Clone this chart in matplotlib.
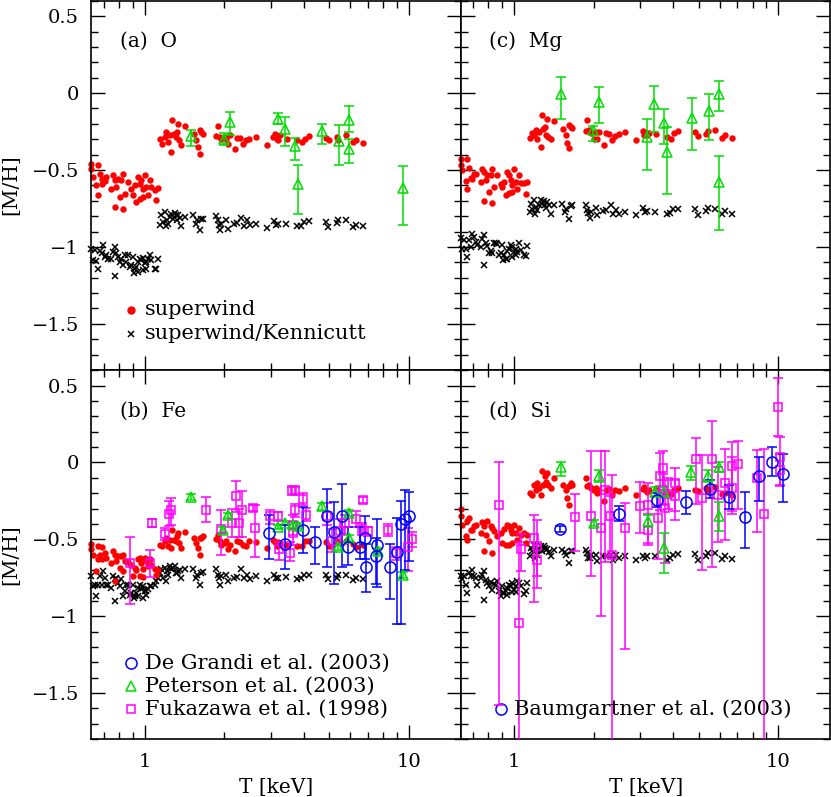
import matplotlib
matplotlib.use("Agg")
import matplotlib.pyplot as plt
from matplotlib.ticker import MultipleLocator, LogLocator, NullFormatter, FuncFormatter

plt.rcParams["font.family"] = ["DejaVu Serif"]

# ---- model galaxies (superwind) : temperatures shared by all elements ----
T_SW_LOW = [0.628, 0.666, 0.628, 0.637, 0.676, 0.656, 0.686, 0.705, 0.716, 0.691,
            0.666, 0.759, 0.770, 0.793, 0.828, 0.816, 0.781, 0.748, 0.804, 0.770,
            0.828, 0.865, 0.840, 0.890, 0.916, 0.903, 0.930, 0.943, 0.957, 0.971,
            1.000, 0.986, 1.015, 1.045, 1.060, 1.030, 0.986, 1.090, 1.123, 1.107, 0.957]
T_SW_HIGH = [1.146, 1.166, 1.191, 1.208, 1.226, 1.244, 1.262, 1.273, 1.288, 1.310,
             1.326, 1.338, 1.349, 1.377, 1.418, 1.533, 1.569, 1.592, 1.616, 1.639,
             1.663, 1.616, 1.868, 1.896, 1.923, 1.951, 2.009, 2.038, 2.069, 2.099,
             2.193, 2.225, 2.290, 2.358, 2.413, 2.485, 2.627, 2.906, 3.064, 3.107,
             3.153, 3.199, 3.246, 3.440, 3.776, 3.920, 4.040, 4.190, 4.850, 4.990,
             5.320, 5.400, 5.770, 6.150, 6.280, 6.710]
T_KN_LOW = [0.628, 0.637, 0.647, 0.656, 0.666, 0.676, 0.686, 0.695, 0.705, 0.716,
            0.726, 0.748, 0.759, 0.770, 0.770, 0.781, 0.793, 0.804, 0.816, 0.828,
            0.840, 0.852, 0.865, 0.877, 0.890, 0.903, 0.908, 0.916, 0.930, 0.943,
            0.957, 0.971, 0.986, 0.986, 1.000, 1.015, 1.030, 1.045, 1.060, 1.090,
            1.107, 1.123, 0.943, 1.015]
T_KN_HIGH = [1.146, 1.156, 1.173, 1.191, 1.201, 1.215, 1.226, 1.244, 1.262, 1.280,
             1.299, 1.310, 1.326, 1.338, 1.357, 1.377, 1.418, 1.525, 1.561, 1.579,
             1.616, 1.639, 1.663, 1.868, 1.896, 1.912, 1.934, 1.951, 2.038, 2.069,
             2.174, 2.225, 2.323, 2.371, 2.428, 2.500, 2.627, 2.906, 3.080, 3.135,
             3.199, 3.420, 3.776, 3.890, 4.000, 4.190, 4.850, 4.950, 5.320, 5.400,
             5.770, 6.150, 6.280, 6.710]

# superwind [M/H]
O_SW_LOW = [-0.459, -0.465, -0.496, -0.545, -0.524, -0.599, -0.556, -0.574, -0.545, -0.589,
            -0.664, -0.535, -0.567, -0.556, -0.524, -0.567, -0.610, -0.621, -0.675, -0.740,
            -0.751, -0.578, -0.654, -0.621, -0.599, -0.664, -0.708, -0.545, -0.589, -0.567,
            -0.535, -0.621, -0.610, -0.567, -0.610, -0.664, -0.675, -0.632, -0.617, -0.693, -0.686]
MG_SW_LOW = [-0.426, -0.431, -0.465, -0.502, -0.487, -0.574, -0.552, -0.524, -0.524, -0.560,
             -0.625, -0.496, -0.513, -0.530, -0.496, -0.535, -0.567, -0.578, -0.643, -0.703,
             -0.712, -0.535, -0.610, -0.589, -0.578, -0.610, -0.664, -0.513, -0.535, -0.567,
             -0.496, -0.599, -0.578, -0.535, -0.582, -0.621, -0.643, -0.582, -0.578, -0.654, -0.647]
FE_SW_LOW = [-0.528, -0.545, -0.566, -0.600, -0.599, -0.707, -0.549, -0.588, -0.620, -0.631,
             -0.627, -0.577, -0.599, -0.610, -0.600, -0.610, -0.642, -0.653, -0.686, -0.772,
             -0.707, -0.650, -0.642, -0.664, -0.686, -0.740, -0.700, -0.631, -0.621, -0.653,
             -0.620, -0.696, -0.642, -0.631, -0.665, -0.675, -0.744, -0.690, -0.700, -0.729, -0.740]
SI_SW_LOW = [-0.303, -0.383, -0.351, -0.405, -0.361, -0.480, -0.437, -0.416, -0.405, -0.437,
             -0.502, -0.390, -0.416, -0.383, -0.426, -0.416, -0.470, -0.460, -0.513, -0.578,
             -0.589, -0.481, -0.448, -0.459, -0.433, -0.524, -0.535, -0.405, -0.416, -0.437,
             -0.405, -0.459, -0.459, -0.426, -0.470, -0.502, -0.524, -0.459, -0.470, -0.524, -0.535]

O_SW_HIGH = [-0.296, -0.329, -0.286, -0.253, -0.318, -0.275, -0.383, -0.177, -0.264, -0.286,
             -0.253, -0.199, -0.307, -0.335, -0.214, -0.264, -0.307, -0.351, -0.394, -0.253,
             -0.264, -0.242, -0.279, -0.214, -0.286, -0.296, -0.286, -0.296, -0.329, -0.275,
             -0.366, -0.292, -0.290, -0.333, -0.307, -0.296, -0.286, -0.335, -0.286, -0.264,
             -0.296, -0.307, -0.275, -0.296, -0.307, -0.318, -0.296, -0.279, -0.292, -0.307,
             -0.286, -0.307, -0.275, -0.318, -0.303, -0.325]
MG_SW_HIGH = [-0.292, -0.257, -0.270, -0.242, -0.296, -0.253, -0.351, -0.145, -0.232, -0.221,
              -0.275, -0.167, -0.286, -0.301, -0.184, -0.232, -0.275, -0.322, -0.357, -0.221,
              -0.227, -0.210, -0.249, -0.177, -0.242, -0.257, -0.296, -0.253, -0.300, -0.253,
              -0.335, -0.257, -0.264, -0.303, -0.279, -0.266, -0.253, -0.303, -0.247, -0.275,
              -0.257, -0.270, -0.260, -0.264, -0.286, -0.296, -0.257, -0.247, -0.253, -0.279,
              -0.264, -0.249, -0.242, -0.290, -0.275, -0.292]
FE_SW_HIGH = [-0.534, -0.541, -0.512, -0.491, -0.541, -0.502, -0.556, -0.437, -0.502, -0.512,
              -0.480, -0.458, -0.523, -0.556, -0.454, -0.491, -0.527, -0.556, -0.599, -0.491,
              -0.480, -0.490, -0.497, -0.470, -0.512, -0.534, -0.523, -0.512, -0.566, -0.534,
              -0.577, -0.512, -0.519, -0.534, -0.545, -0.512, -0.519, -0.556, -0.506, -0.515,
              -0.541, -0.520, -0.530, -0.534, -0.541, -0.541, -0.512, -0.512, -0.519, -0.541,
              -0.512, -0.519, -0.508, -0.528, -0.549, -0.534]
SI_SW_HIGH = [-0.199, -0.210, -0.145, -0.177, -0.134, -0.167, -0.210, -0.058, -0.145, -0.091,
              -0.130, -0.069, -0.145, -0.167, -0.102, -0.145, -0.177, -0.232, -0.275, -0.134,
              -0.145, -0.156, -0.102, -0.156, -0.145, -0.167, -0.177, -0.167, -0.199, -0.177,
              -0.253, -0.177, -0.173, -0.210, -0.182, -0.188, -0.167, -0.210, -0.173, -0.160,
              -0.177, -0.195, -0.182, -0.167, -0.199, -0.203, -0.177, -0.167, -0.177, -0.188,
              -0.167, -0.177, -0.160, -0.203, -0.199, -0.210]

# superwind/Kennicutt [M/H]
O_KN_LOW = [-1.011, -1.087, -1.022, -1.093, -1.141, -1.028, -1.043, -0.989, -1.065, -1.054,
            -1.076, -1.080, -1.032, -1.000, -1.188, -1.043, -1.065, -1.097, -1.076, -1.119,
            -1.054, -1.097, -1.054, -1.130, -1.119, -1.065, -1.173, -1.141, -1.130, -1.097,
            -1.076, -1.087, -1.071, -1.151, -1.108, -1.097, -1.076, -1.054, -1.087, -1.141,
            -1.141, -1.076, -1.162, -1.141]
MG_KN_LOW = [-0.941, -1.011, -0.957, -1.017, -1.065, -0.957, -1.000, -0.913, -0.935, -0.967,
             -0.989, -1.000, -0.950, -0.920, -1.115, -0.972, -0.993, -1.043, -1.028, -1.040,
             -0.978, -0.972, -0.980, -1.050, -1.043, -0.989, -1.087, -1.054, -1.076, -1.028,
             -1.011, -0.989, -1.000, -1.065, -1.032, -1.011, -1.032, -0.978, -1.022, -1.054,
             -1.060, -0.993, -1.076, -1.050]
FE_KN_LOW = [-0.740, -0.805, -0.794, -0.870, -0.800, -0.740, -0.794, -0.707, -0.750, -0.794,
             -0.794, -0.815, -0.740, -0.760, -0.902, -0.750, -0.783, -0.805, -0.761, -0.870,
             -0.837, -0.794, -0.794, -0.859, -0.848, -0.794, -0.880, -0.870, -0.848, -0.815,
             -0.794, -0.826, -0.805, -0.880, -0.837, -0.837, -0.826, -0.805, -0.805, -0.794,
             -0.772, -0.750, -0.870, -0.859]
SI_KN_LOW = [-0.736, -0.760, -0.740, -0.794, -0.848, -0.720, -0.740, -0.697, -0.740, -0.750,
             -0.794, -0.751, -0.730, -0.708, -0.892, -0.762, -0.784, -0.805, -0.780, -0.827,
             -0.790, -0.800, -0.773, -0.838, -0.870, -0.805, -0.850, -0.848, -0.838, -0.816,
             -0.794, -0.805, -0.784, -0.845, -0.827, -0.805, -0.773, -0.784, -0.805, -0.853,
             -0.838, -0.784, -0.860, -0.840]

O_KN_HIGH = [-0.855, -0.794, -0.838, -0.773, -0.864, -0.827, -0.848, -0.805, -0.783, -0.816,
             -0.777, -0.794, -0.827, -0.794, -0.812, -0.864, -0.805, -0.794, -0.848, -0.827,
             -0.892, -0.816, -0.820, -0.799, -0.827, -0.859, -0.892, -0.848, -0.827, -0.881,
             -0.848, -0.842, -0.812, -0.864, -0.827, -0.859, -0.848, -0.877, -0.833, -0.855,
             -0.848, -0.848, -0.864, -0.864, -0.838, -0.833, -0.838, -0.870, -0.842, -0.827,
             -0.827, -0.870, -0.855, -0.864]
MG_KN_HIGH = [-0.773, -0.719, -0.751, -0.697, -0.783, -0.740, -0.760, -0.729, -0.697, -0.719,
              -0.703, -0.729, -0.747, -0.708, -0.730, -0.783, -0.725, -0.719, -0.773, -0.751,
              -0.816, -0.736, -0.729, -0.725, -0.762, -0.780, -0.812, -0.773, -0.747, -0.794,
              -0.768, -0.762, -0.729, -0.783, -0.762, -0.783, -0.770, -0.794, -0.747, -0.773,
              -0.768, -0.773, -0.783, -0.777, -0.755, -0.751, -0.755, -0.790, -0.768, -0.747,
              -0.751, -0.783, -0.768, -0.783]
FE_KN_HIGH = [-0.718, -0.696, -0.750, -0.686, -0.772, -0.707, -0.730, -0.675, -0.696, -0.686,
              -0.675, -0.718, -0.720, -0.707, -0.700, -0.750, -0.696, -0.696, -0.750, -0.729,
              -0.794, -0.718, -0.714, -0.696, -0.735, -0.750, -0.794, -0.740, -0.729, -0.772,
              -0.750, -0.744, -0.696, -0.750, -0.729, -0.761, -0.740, -0.772, -0.729, -0.750,
              -0.750, -0.744, -0.761, -0.750, -0.735, -0.735, -0.735, -0.761, -0.750, -0.729,
              -0.729, -0.766, -0.750, -0.761]
SI_KN_HIGH = [-0.610, -0.556, -0.578, -0.535, -0.621, -0.567, -0.600, -0.567, -0.545, -0.578,
              -0.545, -0.556, -0.567, -0.560, -0.580, -0.610, -0.567, -0.567, -0.584, -0.600,
              -0.654, -0.578, -0.578, -0.567, -0.590, -0.621, -0.620, -0.600, -0.600, -0.643,
              -0.610, -0.610, -0.600, -0.632, -0.600, -0.621, -0.610, -0.636, -0.610, -0.620,
              -0.610, -0.610, -0.632, -0.621, -0.600, -0.593, -0.593, -0.632, -0.610, -0.589,
              -0.589, -0.628, -0.610, -0.628]

# ---- observations ----
PET_O_T = [1.50, 1.99, 2.10, 3.20, 3.39, 3.69, 3.79, 4.67, 5.44, 5.94, 5.94, 9.46]
PET_O = [-0.281, -0.297, -0.188, -0.167, -0.232, -0.346, -0.593, -0.247, -0.312, -0.177, -0.361, -0.617]
PET_O_LO = [0.065, 0.043, 0.087, 0.037, 0.110, 0.091, 0.191, 0.082, 0.157, 0.076, 0.093, 0.242]
PET_O_HI = [0.043, 0.037, 0.065, 0.037, 0.076, 0.056, 0.123, 0.048, 0.102, 0.095, 0.065, 0.145]

PET_MG_T = [1.50, 1.99, 2.09, 3.19, 3.39, 3.69, 3.78, 4.70, 5.48, 5.98, 5.98]
PET_MG = [-0.004, -0.242, -0.058, -0.286, -0.069, -0.195, -0.383, -0.162, -0.119, -0.004, -0.578]
PET_MG_LO = [0.162, 0.069, 0.137, 0.212, 0.184, 0.134, 0.275, 0.205, 0.184, 0.115, 0.310]
PET_MG_HI = [0.108, 0.026, 0.097, 0.119, 0.115, 0.089, 0.162, 0.130, 0.115, 0.082, 0.167]

PET_FE_T = [1.49, 1.98, 2.07, 3.18, 3.39, 3.65, 3.81, 4.67, 5.40, 5.94, 5.94, 7.65, 9.46]
PET_FE = [-0.225, -0.44, -0.344, -0.42, -0.394, -0.405, -0.416, -0.286, -0.55, -0.329, -0.491, -0.578, -0.734]
PET_FE_ERR = [0.02, 0.02, 0.015, 0.015, 0.015, 0.02, 0.02, 0.02, 0.02, 0.02, 0.02, 0.02, 0.02]

PET_SI_T = [1.50, 2.00, 2.09, 3.20, 3.41, 3.68, 3.70, 4.66, 5.43, 5.98, 5.98]
PET_SI = [-0.03, -0.394, -0.09, -0.383, -0.19, -0.19, -0.556, -0.065, -0.087, -0.03, -0.346]
PET_SI_LO = [0.06, 0.02, 0.04, 0.04, 0.03, 0.03, 0.16, 0.05, 0.04, 0.035, 0.10]
PET_SI_HI = [0.035, 0.02, 0.04, 0.04, 0.03, 0.03, 0.10, 0.045, 0.04, 0.035, 0.09]

DG_FE_T = [2.95, 3.39, 3.98, 4.41, 4.90, 5.20, 5.58, 5.90, 6.52, 6.87, 6.81, 7.54, 7.50, 8.47,
           8.98, 9.30, 9.66, 10.0]
DG_FE = [-0.46, -0.53, -0.44, -0.52, -0.35, -0.45, -0.35, -0.55, -0.55, -0.68, -0.49, -0.54,
         -0.61, -0.68, -0.58, -0.40, -0.37, -0.35]
DG_FE_LO = [0.17, 0.16, 0.15, 0.14, 0.33, 0.34, 0.33, 0.12, 0.08, 0.16, 0.14, 0.27, 0.18, 0.21,
            0.47, 0.65, 0.33, 0.29]
DG_FE_HI = [0.12, 0.12, 0.15, 0.10, 0.18, 0.19, 0.21, 0.13, 0.13, 0.15, 0.14, 0.17, 0.12, 0.15,
            0.22, 0.15, 0.19, 0.16]

FK_FE_T = [0.877, 1.045, 1.066, 1.19, 1.233, 1.26, 1.70, 1.94, 2.14, 2.21, 2.28, 2.34, 2.57,
           2.61, 2.98, 3.20, 3.23, 3.56, 3.60, 3.70, 3.96, 3.70, 4.09, 3.65, 3.65, 4.88, 5.10,
           5.48, 5.72, 6.30, 6.71, 6.62, 7.01, 8.35, 8.93, 9.94, 10.24]
FK_FE = [-0.653, -0.657, -0.393, -0.465, -0.333, -0.31, -0.307, -0.43, -0.393, -0.221, -0.394,
         -0.307, -0.297, -0.426, -0.35, -0.35, -0.566, -0.588, -0.181, -0.181, -0.237, -0.307,
         -0.339, -0.404, -0.458, -0.346, -0.512, -0.447, -0.393, -0.367, -0.242, -0.432, -0.447,
         -0.441, -0.592, -0.549, -0.501]
FK_FE_LO = [0.27, 0.09, 0.025, 0.04, 0.08, 0.10, 0.08, 0.17, 0.09, 0.10, 0.09, 0.18, 0.02, 0.19,
            0.05, 0.03, 0.07, 0.05, 0.03, 0.03, 0.04, 0.05, 0.04, 0.07, 0.08, 0.06, 0.07, 0.09,
            0.07, 0.05, 0.02, 0.04, 0.03, 0.04, 0.04, 0.16, 0.05]
FK_FE_HI = [0.17, 0.085, 0.025, 0.04, 0.08, 0.08, 0.08, 0.12, 0.09, 0.10, 0.09, 0.12, 0.02, 0.15,
            0.04, 0.03, 0.05, 0.07, 0.02, 0.02, 0.04, 0.04, 0.04, 0.06, 0.07, 0.08, 0.08, 0.08,
            0.05, 0.05, 0.02, 0.04, 0.03, 0.04, 0.04, 0.12, 0.05]

FK_SI_T = [0.877, 1.045, 1.066, 1.19, 1.22, 1.22, 1.70, 1.95, 2.14, 2.21, 2.30, 2.35, 2.62,
           2.99, 3.22, 3.22, 3.51, 3.56, 3.65, 3.65, 3.73, 3.83, 4.06, 4.06, 4.88, 5.13, 5.59,
           5.93, 6.28, 6.66, 6.66, 7.06, 8.28, 8.85, 10.0, 10.14, 10.14]
FK_SI = [-0.275, -1.043, -0.563, -0.49, -0.545, -0.636, -0.355, -0.346, -0.426, -0.177, -0.35,
         -0.60, -0.426, -0.286, -0.275, -0.437, -0.361, -0.091, -0.037, -0.177, -0.297, -0.203,
         -0.134, -0.216, 0.022, -0.232, 0.022, -0.21, -0.134, -0.026, -0.167, -0.011, -0.10,
         -0.333, 0.359, 0.035, -0.047]
FK_SI_LO = [1.30, 1.0, 0.14, 0.42, 0.27, 0.10, 0.22, 0.39, 0.57, 0.47, 0.26, 1.5, 0.79, 0.17,
            0.25, 0.10, 0.27, 0.22, 0.14, 0.10, 0.36, 0.10, 0.24, 0.10, 0.29, 0.47, 0.70, 0.31,
            0.37, 0.29, 0.17, 0.29, 0.35, 2.0, 0.19, 0.19, 0.10]
FK_SI_HI = [0.275, 0.524, 0.10, 0.15, 0.17, 0.10, 0.15, 0.42, 0.50, 0.25, 0.13, 0.52, 0.16, 0.16,
            0.14, 0.10, 0.18, 0.15, 0.11, 0.10, 0.18, 0.10, 0.10, 0.10, 0.14, 0.28, 0.25, 0.18,
            0.22, 0.16, 0.20, 0.15, 0.18, 0.42, 0.19, 0.13, 0.10]

BG_SI_T = [1.498, 2.49, 3.49, 4.47, 5.51, 6.50, 7.48, 8.47, 9.44, 10.45]
BG_SI = [-0.433, -0.333, -0.242, -0.258, -0.173, -0.225, -0.355, -0.091, 0.006, -0.076]
BG_SI_LO = [0.02, 0.05, 0.045, 0.08, 0.06, 0.08, 0.20, 0.157, 0.097, 0.182]
BG_SI_HI = [0.02, 0.05, 0.045, 0.07, 0.06, 0.08, 0.16, 0.126, 0.093, 0.134]

RED = "#ff0000"
GREEN = "#00dd00"
BLUE = "#0000ff"
MAGENTA = "#ff00ff"
FS = 14


def _models(ax, sw_low, sw_high, kn_low, kn_high):
    ax.plot(T_KN_LOW + T_KN_HIGH, kn_low + kn_high, "x", ls="none", color="black",
            ms=4.0, mew=1.1, clip_on=False, zorder=2)
    ax.plot(T_SW_LOW + T_SW_HIGH, sw_low + sw_high, "o", ls="none", color=RED,
            ms=4.6, mew=0, clip_on=False, zorder=2)


def _obs(ax, t, y, lo, hi, marker, color, ms):
    ax.errorbar(t, y, yerr=[lo, hi], fmt=marker, ls="none", mfc="none", mec=color,
                ecolor=color, ms=ms, mew=1.1, elinewidth=1.1, capsize=3.5, capthick=1.1,
                zorder=3)


fig, axes = plt.subplots(2, 2, figsize=(8.31, 7.97), dpi=100, sharex=True, sharey=True)
fig.subplots_adjust(left=0.110, right=0.9988, top=0.9993, bottom=0.0725, wspace=0, hspace=0)
ax_o, ax_mg = axes[0]
ax_fe, ax_si = axes[1]

# (a) O
_models(ax_o, O_SW_LOW, O_SW_HIGH, O_KN_LOW, O_KN_HIGH)
_obs(ax_o, PET_O_T, PET_O, PET_O_LO, PET_O_HI, "^", GREEN, 7)

# (c) Mg
_models(ax_mg, MG_SW_LOW, MG_SW_HIGH, MG_KN_LOW, MG_KN_HIGH)
_obs(ax_mg, PET_MG_T, PET_MG, PET_MG_LO, PET_MG_HI, "^", GREEN, 7)

# (b) Fe
_models(ax_fe, FE_SW_LOW, FE_SW_HIGH, FE_KN_LOW, FE_KN_HIGH)
_obs(ax_fe, FK_FE_T, FK_FE, FK_FE_LO, FK_FE_HI, "s", MAGENTA, 6)
_obs(ax_fe, PET_FE_T, PET_FE, PET_FE_ERR, PET_FE_ERR, "^", GREEN, 7)
_obs(ax_fe, DG_FE_T, DG_FE, DG_FE_LO, DG_FE_HI, "o", BLUE, 8)

# (d) Si
_models(ax_si, SI_SW_LOW, SI_SW_HIGH, SI_KN_LOW, SI_KN_HIGH)
_obs(ax_si, FK_SI_T, FK_SI, FK_SI_LO, FK_SI_HI, "s", MAGENTA, 6)
_obs(ax_si, PET_SI_T, PET_SI, PET_SI_LO, PET_SI_HI, "^", GREEN, 7)
_obs(ax_si, BG_SI_T, BG_SI, BG_SI_LO, BG_SI_HI, "o", BLUE, 8)

fmt_y = FuncFormatter(lambda v, p: ("%g" % round(v, 2)).replace("-", "\u2212"))
for ax in axes.flat:
    ax.set_xscale("log")
    ax.set_xlim(0.628, 15.7)
    ax.set_ylim(-1.8, 0.602)
    ax.yaxis.set_major_locator(MultipleLocator(0.5))
    ax.yaxis.set_minor_locator(MultipleLocator(0.1))
    ax.yaxis.set_major_formatter(fmt_y)
    ax.xaxis.set_major_locator(LogLocator(base=10))
    ax.xaxis.set_minor_locator(LogLocator(base=10, subs=range(2, 10)))
    ax.xaxis.set_major_formatter(FuncFormatter(lambda v, p: "%g" % v))
    ax.xaxis.set_minor_formatter(NullFormatter())
    ax.tick_params(which="both", direction="in", top=True, right=True, width=1.0,
                   labelsize=FS)
    ax.tick_params(which="major", length=10)
    ax.tick_params(which="minor", length=5)
    ax.tick_params(axis="y", pad=9)
    ax.tick_params(axis="x", pad=10)
    for s in ax.spines.values():
        s.set_linewidth(1.2)

for ax in (ax_mg, ax_si):
    ax.tick_params(labelleft=False)
for ax in (ax_o, ax_mg):
    ax.tick_params(labelbottom=False)

# panel labels
ax_o.text(0.077, 0.889, "(a)  O", transform=ax_o.transAxes, fontsize=14.5, va="center")
ax_mg.text(0.077, 0.889, "(c)  Mg", transform=ax_mg.transAxes, fontsize=14.5, va="center")
ax_fe.text(0.077, 0.889, "(b)  Fe", transform=ax_fe.transAxes, fontsize=14.5, va="center")
ax_si.text(0.077, 0.889, "(d)  Si", transform=ax_si.transAxes, fontsize=14.5, va="center")

# legends drawn by hand
LFS = 15
tx = 0.1445
mx = 0.108
ax_o.plot([mx], [0.1625], "o", color=RED, ms=6, mew=0, transform=ax_o.transAxes)
ax_o.text(tx, 0.1625, "superwind", transform=ax_o.transAxes, fontsize=LFS, va="center")
ax_o.plot([mx], [0.098], "x", color="black", ms=4, mew=1.1, transform=ax_o.transAxes)
ax_o.text(tx, 0.098, "superwind/Kennicutt", transform=ax_o.transAxes, fontsize=LFS, va="center")

ax_fe.plot([mx], [0.206], "o", mfc="none", mec=BLUE, ms=8, mew=1.1, transform=ax_fe.transAxes)
ax_fe.text(tx, 0.206, "De Grandi et al. (2003)", transform=ax_fe.transAxes, fontsize=LFS,
           va="center")
ax_fe.plot([mx], [0.143], "^", mfc="none", mec=GREEN, ms=7, mew=1.1, transform=ax_fe.transAxes)
ax_fe.text(tx, 0.143, "Peterson et al. (2003)", transform=ax_fe.transAxes, fontsize=LFS,
           va="center")
ax_fe.plot([mx], [0.0816], "s", mfc="none", mec=MAGENTA, ms=6, mew=1.1,
           transform=ax_fe.transAxes)
ax_fe.text(tx, 0.0816, "Fukazawa et al. (1998)", transform=ax_fe.transAxes, fontsize=LFS,
           va="center")

ax_si.plot([mx], [0.0816], "o", mfc="none", mec=BLUE, ms=8, mew=1.1, transform=ax_si.transAxes)
ax_si.text(tx, 0.0816, "Baumgartner et al. (2003)", transform=ax_si.transAxes, fontsize=LFS,
           va="center")

# axis labels
fig.text(0.0135, 0.768, "[M/H]", rotation=90, ha="center", va="center", fontsize=14.5)
fig.text(0.0135, 0.3045, "[M/H]", rotation=90, ha="center", va="center", fontsize=14.5)
fig.text(0.332, 0.0125, "T [keV]", ha="center", va="center", fontsize=14.5)
fig.text(0.777, 0.0125, "T [keV]", ha="center", va="center", fontsize=14.5)

fig.savefig("out.png", dpi=100, facecolor="white")
